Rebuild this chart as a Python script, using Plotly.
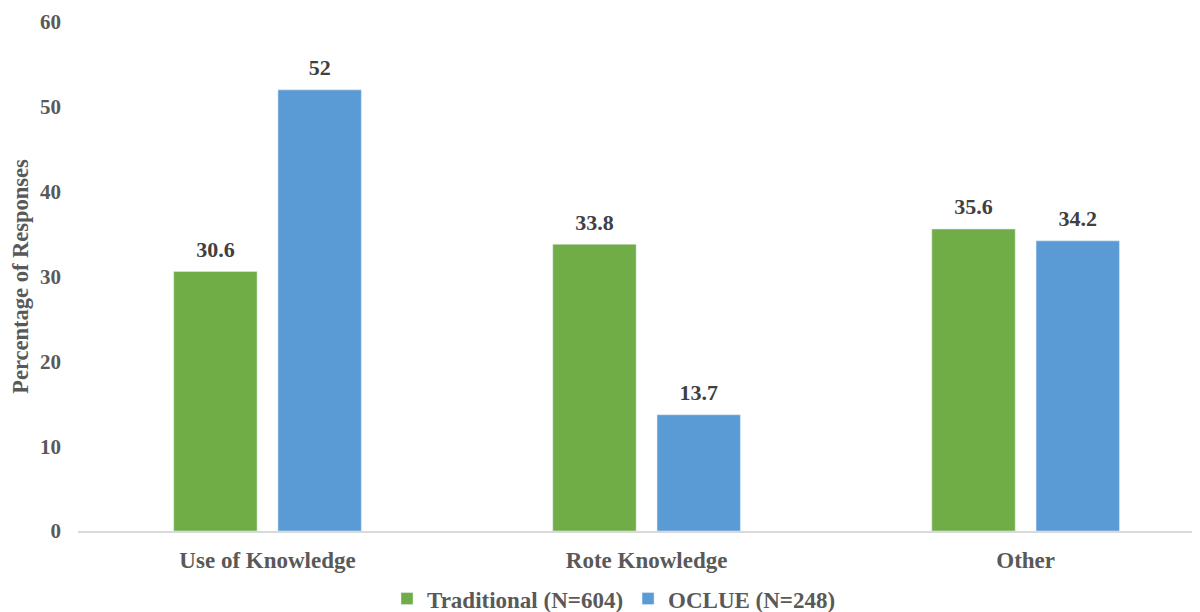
import plotly.graph_objects as go

categories = ["Use of Knowledge", "Rote Knowledge", "Other"]
traditional = [30.6, 33.8, 35.6]
oclue = [52, 13.7, 34.2]
series_names = ["Traditional (N=604)", "OCLUE (N=248)"]
y_ticks = [0, 10, 20, 30, 40, 50, 60]

FONT = "Liberation Serif"

fig = go.Figure()
series = [(series_names[0], traditional, "#70AD47", "g1"),
          (series_names[1], oclue, "#5B9BD5", "g2")]
for name, vals, color, grp in series:
    fig.add_trace(go.Bar(
        x=categories, y=vals, name=name,
        marker_color=color, offsetgroup=grp, alignmentgroup="a",
    ))
for name, vals, color, grp in series:
    fig.add_trace(go.Scatter(
        x=categories, y=vals, mode="markers+text",
        text=[f"{v:g}" for v in vals], textposition="top center",
        textfont=dict(family=FONT, size=22, color="#404040", weight="bold"),
        marker=dict(size=13, opacity=0),
        offsetgroup=grp, alignmentgroup="a",
        showlegend=False, hoverinfo="skip", cliponaxis=False,
    ))

fig.update_layout(
    width=1200, height=612,
    margin=dict(l=70, r=8, t=14, b=89),
    paper_bgcolor="white", plot_bgcolor="white",
    barmode="group", bargap=0.45, bargroupgap=0.2,
    scattermode="group", scattergap=0.45,
    font=dict(family=FONT, size=20, color="#595959"),
    showlegend=True,
    legend=dict(
        orientation="h", xref="container", yref="container",
        x=0.505, xanchor="center", y=0.035, yanchor="middle",
        font=dict(family=FONT, size=23, color="#595959", weight="bold"),
        traceorder="normal", bgcolor="rgba(0,0,0,0)",
    ),
)
fig.update_xaxes(
    range=[-0.5, 2.46], showline=True, linecolor="#D9D9D9", linewidth=1.5,
    ticks="", tickfont=dict(family=FONT, size=23, color="#595959", weight="bold"),
    ticklabelstandoff=8, showgrid=False, automargin=False,
)
fig.update_yaxes(
    range=[0, 60], tickvals=y_ticks, showgrid=False, zeroline=False,
    showline=False, ticks="",
    tickfont=dict(family=FONT, size=21, color="#595959", weight="bold"),
    ticklabelstandoff=16, automargin=False,
    title=dict(text="Percentage of Responses", standoff=10,
               font=dict(family=FONT, size=22.5, color="#595959", weight="bold")),
)
fig.write_html("out.html")
